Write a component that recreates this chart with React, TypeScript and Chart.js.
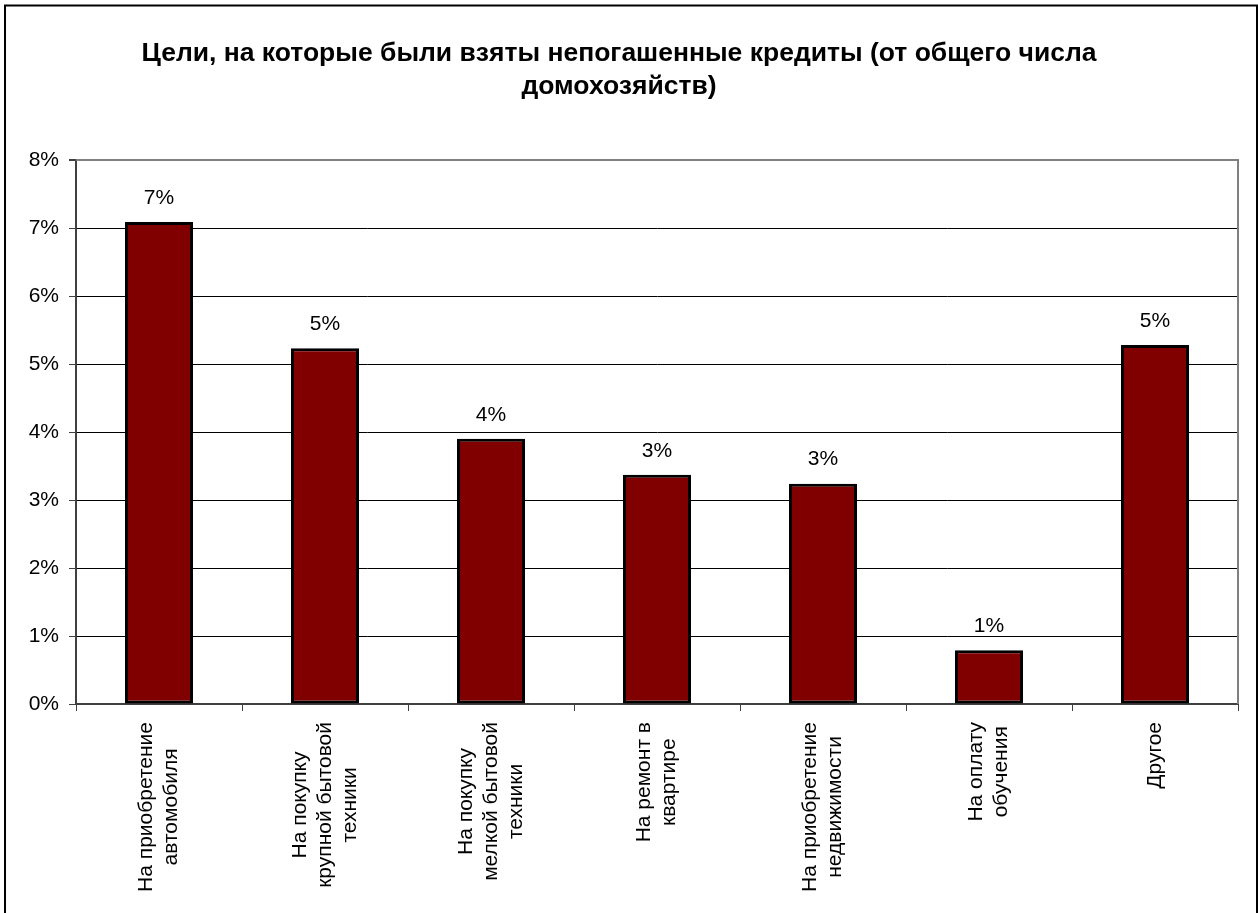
import React, { useEffect, useRef } from "react";
import { Chart, registerables } from "chart.js";

Chart.register(...registerables);

const FONT = "'Liberation Sans', Arial, sans-serif";

const titleLines = [
  "Цели, на которые были взяты непогашенные кредиты (от общего числа",
  "домохозяйств)",
];

const categories: string[][] = [
  ["На приобретение", "автомобиля"],
  ["На покупку", "крупной бытовой", "техники"],
  ["На покупку", "мелкой бытовой", "техники"],
  ["На ремонт в", "квартире"],
  ["На приобретение", "недвижимости"],
  ["На оплату", "обучения"],
  ["Другое"],
];

const values = [7.09, 5.23, 3.9, 3.37, 3.24, 0.79, 5.28];

const yTicks = [0, 1, 2, 3, 4, 5, 6, 7, 8];

const framePlugin = {
  id: "frame",
  beforeDraw(chart: any) {
    const { ctx, width, height } = chart;
    ctx.save();
    ctx.fillStyle = "#ffffff";
    ctx.fillRect(0, 0, width, height);
    ctx.strokeStyle = "#000000";
    ctx.lineWidth = 2;
    ctx.beginPath();
    ctx.moveTo(5, height);
    ctx.lineTo(5, 5.5);
    ctx.lineTo(1257, 5.5);
    ctx.lineTo(1257, height);
    ctx.stroke();
    ctx.restore();
  },
  beforeDatasetsDraw(chart: any) {
    const { ctx, chartArea } = chart;
    ctx.save();
    ctx.strokeStyle = "#808080";
    ctx.lineWidth = 2;
    ctx.beginPath();
    ctx.moveTo(chartArea.left, chartArea.top);
    ctx.lineTo(chartArea.right, chartArea.top);
    ctx.lineTo(chartArea.right, chartArea.bottom);
    ctx.stroke();
    ctx.restore();
  },
};

const labelsPlugin = {
  id: "valueAndCategoryLabels",
  afterDraw(chart: any) {
    const { ctx, chartArea } = chart;
    const meta = chart.getDatasetMeta(0);
    const xScale = chart.scales.x;
    ctx.save();
    ctx.fillStyle = "#000000";
    ctx.font = `21px ${FONT}`;
    ctx.textAlign = "center";
    ctx.textBaseline = "middle";
    meta.data.forEach((bar: any, i: number) => {
      const v = chart.data.datasets[0].data[i] as number;
      ctx.fillText(`${Math.round(v)}%`, bar.x, bar.y - 24);
    });
    const lh = 25;
    (chart.data.labels as string[][]).forEach((lines, i) => {
      const x = xScale.getPixelForValue(i);
      const maxW = Math.max(...lines.map((l) => ctx.measureText(l).width));
      ctx.save();
      ctx.translate(x, chartArea.bottom + 18 + maxW / 2);
      ctx.rotate(-Math.PI / 2);
      lines.forEach((line, j) => {
        ctx.fillText(line, 0, (j - (lines.length - 1) / 2) * lh);
      });
      ctx.restore();
    });
    ctx.restore();
  },
};

export default function App() {
  const ref = useRef<HTMLCanvasElement>(null);
  useEffect(() => {
    if (!ref.current) return;
    const chart = new Chart(ref.current, {
      type: "bar",
      data: {
        labels: categories as any,
        datasets: [
          {
            data: values,
            backgroundColor: "#800000",
            borderColor: "#000000",
            borderWidth: 3,
            borderSkipped: false,
            barPercentage: 0.41,
            categoryPercentage: 1.0,
          },
        ],
      },
      options: {
        responsive: false,
        animation: false,
        layout: { padding: { left: 0, right: 20, top: 0, bottom: 0 } },
        plugins: {
          legend: { display: false },
          tooltip: { enabled: false },
          title: {
            display: true,
            text: titleLines,
            color: "#000000",
            font: { family: FONT, size: 26.5, weight: "bold", lineHeight: 33 / 26.5 },
            padding: { top: 37, bottom: 57 },
          },
        },
        scales: {
          x: {
            grid: {
              display: true,
              drawOnChartArea: false,
              drawTicks: true,
              tickLength: 7,
              color: "#404040",
              offset: true,
            },
            border: { display: true, color: "#404040", width: 2 },
            ticks: { display: false },
            afterFit: (s: any) => {
              s.height = 209;
            },
          },
          y: {
            min: 0,
            max: 8,
            afterBuildTicks: (s: any) => {
              s.ticks = yTicks.map((v) => ({ value: v }));
            },
            ticks: {
              callback: (v: any) => `${v}%`,
              color: "#000000",
              font: { family: FONT, size: 21 },
              padding: 10,
            },
            grid: {
              color: (c: any) => (c.tick && c.tick.value === 8 ? "#808080" : "#000000"),
              lineWidth: (c: any) => (c.tick && c.tick.value === 8 ? 2 : 1),
              tickLength: 7,
              tickColor: "#404040",
            },
            border: { display: true, color: "#404040", width: 2 },
            afterFit: (s: any) => {
              s.width = 76;
            },
          },
        },
      },
      plugins: [framePlugin, labelsPlugin],
    });
    return () => chart.destroy();
  }, []);
  return (
    <div style={{ position: "fixed", left: 0, top: 0, width: 1258, height: 913 }}>
      <canvas ref={ref} width={1258} height={913} />
    </div>
  );
}
